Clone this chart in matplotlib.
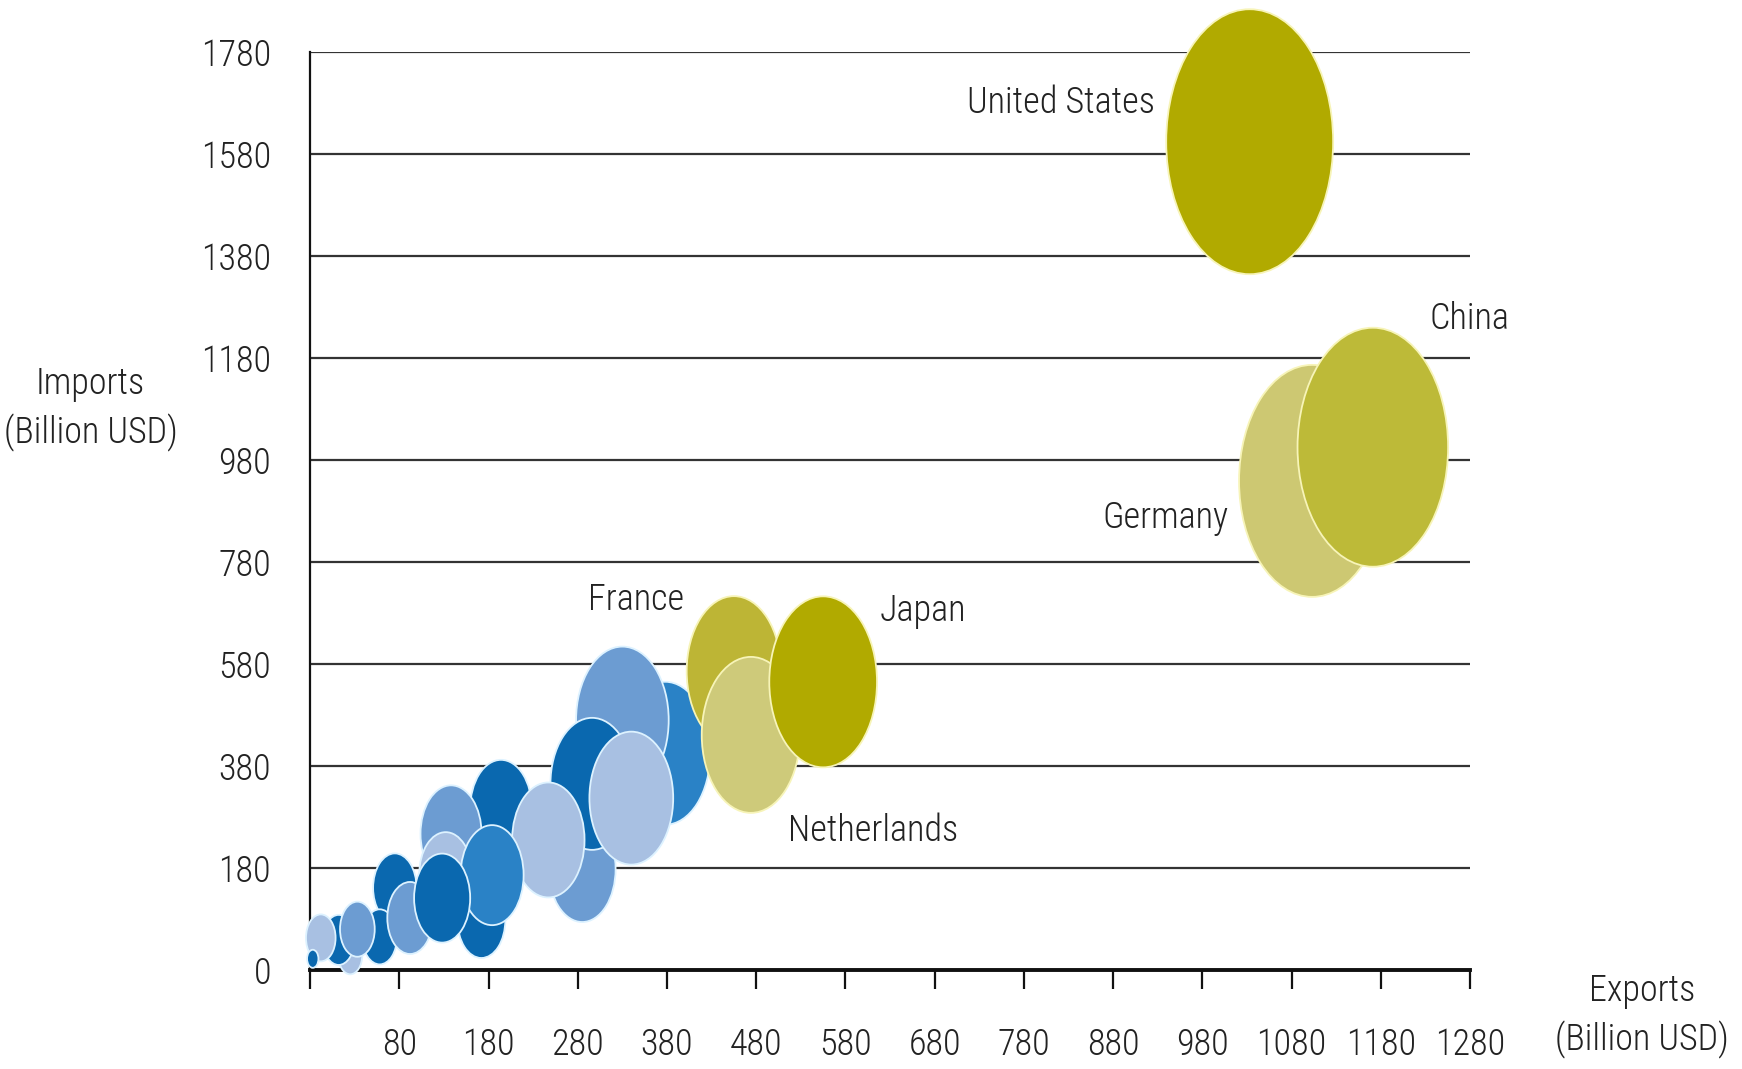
import numpy as np
import matplotlib
matplotlib.use('Agg')
import matplotlib.pyplot as plt
from matplotlib import font_manager
from matplotlib.path import Path

# unlabelled economies (blue cluster), listed back to front
blue_exports = [378, 330, 285, 296, 340, 194, 247, 172, 138, 132, 184, 75, 58, 92, 128, 25, 12, -8, 33, -17]
blue_imports = [405, 470, 178, 345, 317, 296, 235, 78, 247, 168, 166, 141, 45, 82, 121, 9, 39, 43, 60, 2]
blue_volume = [815, 862, 448, 695, 705, 383, 527, 230, 375, 281, 399, 190, 121, 207, 316, 58, 100, 88, 121, 13]
blue_shade = [1, 2, 2, 0, 3, 0, 3, 0, 2, 3, 1, 0, 0, 2, 0, 3, 0, 3, 2, 0]

# labelled economies, back to front
names = ['France', 'Netherlands', 'Japan', 'Germany', 'China', 'United States']
exports = [455, 474, 555, 1103, 1171, 1033]
imports = [566, 441, 545, 939, 1005, 1604]
volume = [897, 970, 1166, 2146, 2278, 2800]

yticks = [-20, 180, 380, 580, 780, 980, 1180, 1380, 1580, 1780]
ytick_labels = ['0', '180', '380', '580', '780', '980', '1180', '1380', '1580', '1780']
xticks = [-20, 80, 180, 280, 380, 480, 580, 680, 780, 880, 980, 1080, 1180, 1280]
xtick_labels = [''] + [str(v) for v in xticks[1:]]

blue_palette = ['#0A68AF', '#2A82C6', '#6C9CD2', '#A8C0E2']
green_colors = {'France': '#BDB535', 'Netherlands': '#CECA7A', 'Japan': '#B1AA00',
                'Germany': '#CDC872', 'China': '#BDBA38', 'United States': '#B1AA00'}
# label placement relative to bubble centre, in points
label_pos = {'United States': (-68, 28, 'right'), 'China': (41, 92, 'left'),
             'Germany': (-60, -27, 'right'), 'Japan': (41, 51, 'left'),
             'France': (-36, 51, 'right'), 'Netherlands': (27, -69, 'left')}

text_color = '#222222'
size_scale = 13.0
font_size = 26


def narrow_font():
    # use the narrowest sans face that is installed, else plain Liberation Sans
    wanted = ['RobotoCondensed-Light.', 'RobotoCondensed-Regular.',
              'NotoSans-ExtraCondensedLight.', 'NotoSans-CondensedLight.',
              'LiberationSansNarrow-Regular.', 'DejaVuSansCondensed.',
              'LiberationSans-Regular.']
    files = [f.fname for f in font_manager.fontManager.ttflist]
    for key in wanted:
        for fn in files:
            if key in fn.split('/')[-1]:
                return font_manager.FontProperties(fname=fn, size=font_size)
    return font_manager.FontProperties(family='DejaVu Sans', size=font_size)


fp = narrow_font()

# bubbles are drawn as upright ellipses
circ = Path.unit_circle()
oval = Path(circ.vertices * [0.63, 1.0], circ.codes)

fig = plt.figure(figsize=(17.42, 10.69), dpi=100)
ax = fig.add_axes([0.1780, 0.0926, 0.6659, 0.8588])

ax.scatter(blue_exports, blue_imports, s=np.array(blue_volume) * size_scale, marker=oval,
           c=[blue_palette[i] for i in blue_shade], edgecolors='#DDF2FF', linewidths=1.3,
           clip_on=False, zorder=3)
ax.scatter(exports, imports, s=np.array(volume) * size_scale, marker=oval,
           c=[green_colors[n] for n in names], edgecolors='#F7F4B8', linewidths=1.3,
           clip_on=False, zorder=4)

for n, x, y in zip(names, exports, imports):
    dx, dy, ha = label_pos[n]
    ax.annotate(n, xy=(x, y), xytext=(dx, dy), textcoords='offset points',
                ha=ha, va='center', fontproperties=fp, color=text_color, zorder=5)

ax.set_xlim(-20, 1280)
ax.set_ylim(-20, 1780)
ax.set_xticks(xticks)
ax.set_xticklabels(xtick_labels)
ax.set_yticks(yticks)
ax.set_yticklabels(ytick_labels)
ax.tick_params(axis='y', length=0, pad=28, labelcolor=text_color)
ax.tick_params(axis='x', length=14, width=1.6, pad=27, labelcolor=text_color,
               direction='out', color='#111111')
for lbl in ax.get_xticklabels() + ax.get_yticklabels():
    lbl.set_fontproperties(fp)

ax.set_axisbelow(True)
ax.yaxis.grid(True, color='#333333', linewidth=1.6)
ax.xaxis.grid(False)
for side in ['top', 'right']:
    ax.spines[side].set_visible(False)
ax.spines['left'].set_linewidth(1.6)
ax.spines['left'].set_color('#111111')
ax.spines['bottom'].set_linewidth(2.8)
ax.spines['bottom'].set_color('#111111')

fig.text(0.0520, 0.617, 'Imports\n(Billion USD)', ha='center', va='center',
         multialignment='center', fontproperties=fp, color=text_color, linespacing=1.4)
fig.text(0.9426, 0.0500, 'Exports\n(Billion USD)', ha='center', va='center',
         multialignment='center', fontproperties=fp, color=text_color, linespacing=1.4)

fig.savefig('out.png', dpi=100, facecolor='white')
plt.close(fig)
